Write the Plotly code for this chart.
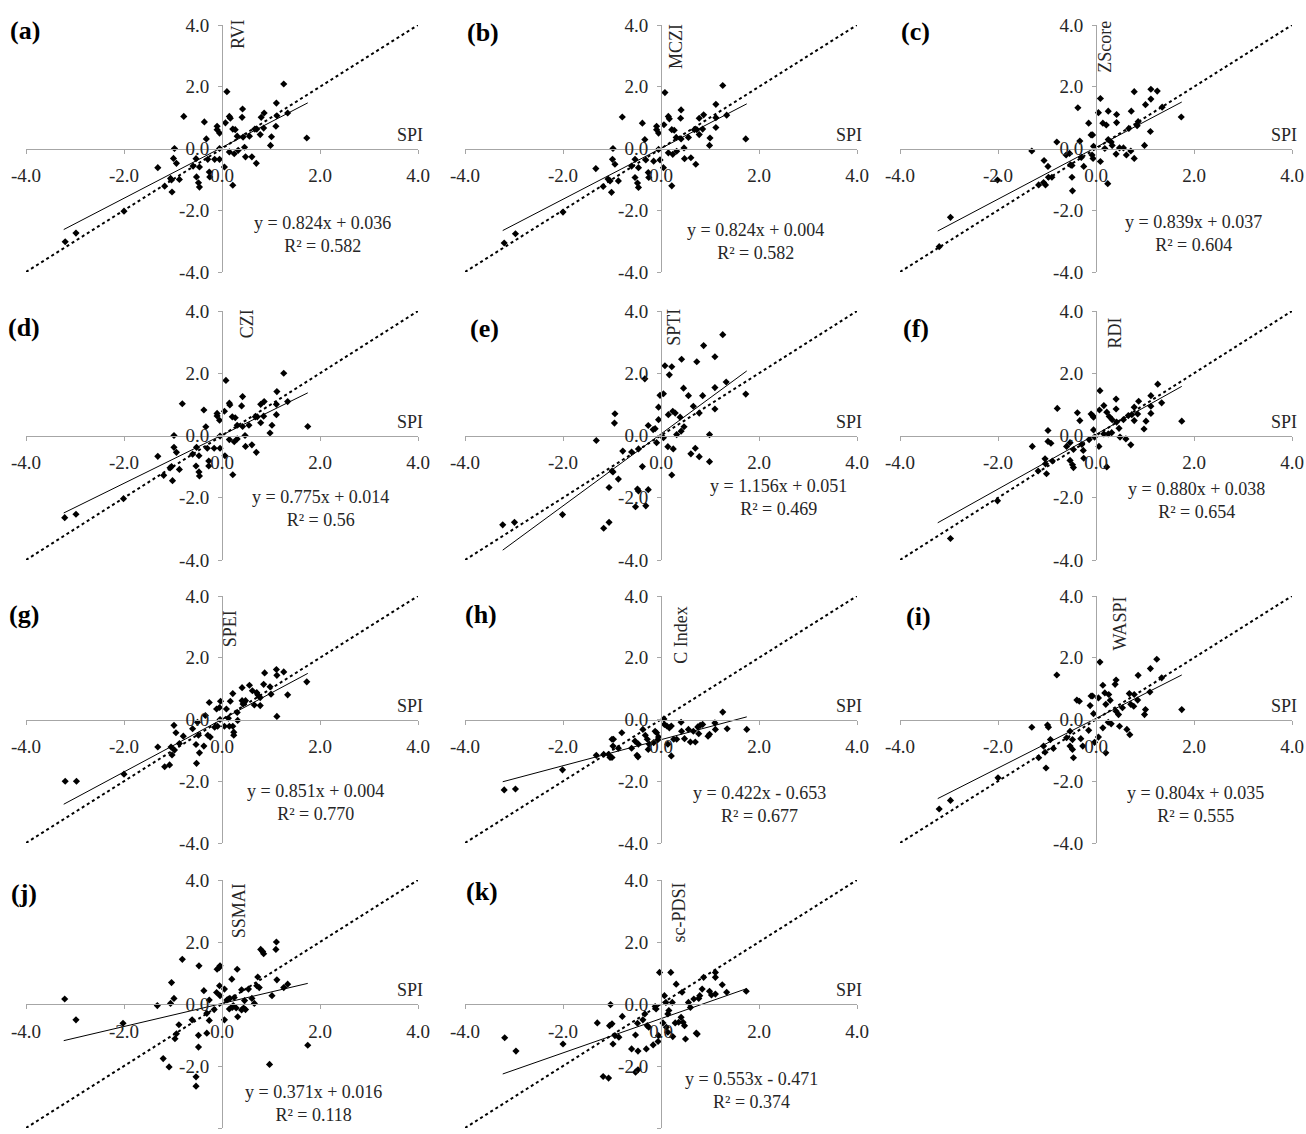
import numpy as np
import plotly.graph_objects as go

# ---------------- data (SPI vs. each index) ----------------
panel_letters = ["a", "b", "c", "d", "e", "f", "g", "h", "i", "j", "k"]
index_names = ["RVI", "MCZI", "ZScore", "CZI", "SPTI", "RDI", "SPEI", "C Index", "WASPI", "SSMAI", "sc-PDSI"]
slopes = [0.824, 0.824, 0.839, 0.775, 1.156, 0.880, 0.851, 0.422, 0.804, 0.371, 0.553]
intercepts = [0.036, 0.004, 0.037, 0.014, 0.051, 0.038, 0.004, -0.653, 0.035, 0.016, -0.471]
r2_labels = ["0.582", "0.582", "0.604", "0.56", "0.469", "0.654", "0.770", "0.677", "0.555", "0.118", "0.374"]
tick_vals = [-4, -2, 0, 2, 4]
tick_text = ["-4.0", "-2.0", "0.0", "2.0", "4.0"]

pts_a = [(-3.2,-3.02),(-2.98,-2.74),(-2.0,-2.03),(-1.31,-0.62),(-1.17,-1.22),(-1.05,-0.97),(-1.03,-1.02),(-1.02,-1.41),(-0.97,0.0),(-0.99,-0.32),(-0.93,-0.48),(-0.87,-1.0),(-0.78,1.04),(-0.59,-0.57),(-0.53,-0.33),(-0.52,-0.92),(-0.48,-1.11),(-0.46,-1.25),(-0.46,-0.6),(-0.36,0.86),(-0.32,0.31),(-0.29,-0.35),(-0.26,-0.76),(-0.25,-0.92),(-0.15,-0.35),(-0.1,0.72),(-0.1,0.61),(-0.05,0.5),(-0.05,0.0),(-0.05,-0.35),(0.05,-0.6),(0.07,0.83),(0.1,1.84),(0.15,1.04),(0.17,0.98),(0.15,-0.11),(0.22,0.63),(0.22,-1.19),(0.25,-0.17),(0.27,0.61),(0.33,-0.06),(0.31,0.4),(0.41,1.01),(0.42,1.28),(0.43,0.37),(0.46,0.04),(0.48,-0.27),(0.56,0.4),(0.61,-0.27),(0.67,0.63),(0.71,0.63),(0.7,-0.48),(0.78,0.45),(0.8,1.01),(0.85,0.66),(0.86,1.15),(0.99,0.1),(1.01,0.38),(1.1,0.72),(1.11,1.47),(1.12,1.06),(1.26,2.09),(1.34,1.15),(1.73,0.34)]
pts_b = [(-3.2,-3.06),(-2.97,-2.76),(-2.0,-2.06),(-1.33,-0.65),(-1.18,-1.23),(-1.08,-0.99),(-1.04,-1.05),(-1.01,-1.42),(-0.98,0.0),(-0.99,-0.35),(-0.94,-0.51),(-0.87,-1.05),(-0.79,1.02),(-0.6,-0.57),(-0.53,-0.35),(-0.53,-0.94),(-0.48,-1.12),(-0.46,-1.26),(-0.46,-0.62),(-0.38,0.82),(-0.33,0.29),(-0.31,-0.37),(-0.26,-0.78),(-0.25,-0.94),(-0.15,-0.41),(-0.09,0.72),(-0.09,0.61),(-0.05,0.5),(-0.05,-0.03),(-0.02,-0.37),(0.05,-0.62),(0.06,0.77),(0.08,1.81),(0.15,1.04),(0.17,0.96),(0.15,-0.14),(0.22,0.61),(0.22,-1.21),(0.24,-0.19),(0.27,0.59),(0.32,-0.09),(0.31,0.36),(0.4,0.98),(0.41,1.25),(0.41,0.31),(0.47,0.02),(0.48,-0.33),(0.56,0.36),(0.61,-0.3),(0.68,0.61),(0.73,0.61),(0.71,-0.51),(0.78,0.45),(0.78,0.98),(0.85,0.63),(0.87,1.09),(0.99,0.1),(1.0,0.34),(1.12,0.68),(1.12,1.43),(1.12,1.0),(1.26,2.04),(1.34,1.08),(1.73,0.31)]
pts_c = [(-3.2,-3.18),(-2.97,-2.23),(-2.01,-1.02),(-1.31,-0.08),(-1.17,-1.18),(-1.07,-1.1),(-1.03,-1.18),(-1.06,-0.39),(-0.98,-0.58),(-0.97,-0.93),(-0.9,-0.93),(-0.8,0.21),(-0.61,-0.21),(-0.54,-0.16),(-0.49,-0.93),(-0.48,-1.37),(-0.52,-0.53),(-0.49,-0.55),(-0.37,1.32),(-0.33,0.24),(-0.3,-0.29),(-0.25,-0.58),(-0.15,0.82),(-0.1,0.44),(-0.07,0.44),(-0.08,-0.21),(-0.06,-0.32),(-0.05,0.07),(0.05,1.16),(0.09,1.62),(0.09,-0.42),(0.14,0.82),(0.18,0.0),(0.21,0.76),(0.25,0.29),(0.25,1.21),(0.24,-1.14),(0.31,0.21),(0.33,0.1),(0.42,0.84),(0.42,1.1),(0.41,-0.18),(0.48,0.02),(0.56,0.02),(0.62,-0.21),(0.67,0.65),(0.71,-0.08),(0.72,1.21),(0.78,-0.32),(0.78,1.84),(0.84,0.74),(0.86,0.87),(0.99,0.1),(1.01,1.42),(1.11,0.55),(1.12,1.6),(1.12,1.92),(1.25,1.86),(1.35,1.34),(1.74,1.02)]
pts_d = [(-3.21,-2.64),(-2.98,-2.53),(-2.01,-2.03),(-1.31,-0.67),(-1.19,-1.28),(-1.06,-1.04),(-1.03,-1.0),(-1.01,-1.45),(-0.98,0.0),(-0.98,-0.38),(-0.93,-0.54),(-0.87,-1.09),(-0.81,1.02),(-0.6,-0.6),(-0.52,-0.38),(-0.53,-0.98),(-0.47,-1.17),(-0.46,-1.3),(-0.47,-0.65),(-0.37,0.82),(-0.33,0.28),(-0.3,-0.41),(-0.27,-0.82),(-0.27,-0.98),(-0.16,-0.41),(-0.1,0.71),(-0.1,0.63),(-0.05,0.49),(-0.04,-0.02),(-0.04,-0.41),(0.06,-0.65),(0.05,0.78),(0.08,1.77),(0.15,1.04),(0.16,0.98),(0.15,-0.13),(0.21,0.6),(0.22,-1.26),(0.25,-0.2),(0.27,0.57),(0.31,-0.11),(0.31,0.33),(0.4,0.95),(0.42,1.25),(0.42,0.29),(0.47,0.0),(0.48,-0.35),(0.55,0.33),(0.61,-0.3),(0.68,0.6),(0.72,0.6),(0.7,-0.54),(0.79,0.41),(0.79,1.0),(0.85,0.62),(0.86,1.09),(0.98,0.08),(1.02,0.33),(1.11,0.67),(1.12,1.41),(1.11,1.0),(1.26,2.0),(1.34,1.09),(1.75,0.29)]
pts_e = [(-3.23,-2.87),(-2.99,-2.79),(-2.01,-2.54),(-1.32,-0.16),(-1.17,-2.98),(-1.06,-2.79),(-1.06,-1.67),(-1.0,-1.14),(-0.98,-1.17),(-0.95,0.4),(-0.94,0.7),(-0.87,-1.4),(-0.78,-0.5),(-0.6,-0.53),(-0.52,-2.29),(-0.48,-1.72),(-0.46,-1.78),(-0.46,-0.43),(-0.38,-1.0),(-0.33,1.82),(-0.31,-2.26),(-0.26,-1.74),(-0.26,0.32),(-0.16,0.19),(-0.12,0.22),(-0.09,-0.23),(-0.05,0.51),(-0.05,0.91),(-0.02,1.29),(0.05,1.34),(0.05,-0.07),(0.08,2.24),(0.14,-0.36),(0.15,0.67),(0.17,1.95),(0.22,2.21),(0.24,0.78),(0.25,-0.43),(0.22,-1.27),(0.29,0.72),(0.32,0.03),(0.39,0.59),(0.41,0.14),(0.42,2.45),(0.46,1.52),(0.47,0.28),(0.56,1.28),(0.61,-0.59),(0.66,0.94),(0.7,-0.41),(0.73,2.37),(0.78,0.72),(0.78,-0.68),(0.85,1.28),(0.87,2.89),(0.99,0.03),(0.99,-0.84),(1.1,2.53),(1.1,1.54),(1.1,0.85),(1.26,3.24),(1.33,1.72),(1.73,1.33)]
pts_f = [(-2.97,-3.31),(-2.01,-2.1),(-1.3,-0.35),(-1.18,-1.14),(-1.04,-0.75),(-1.03,-0.91),(-1.01,-1.23),(-0.98,0.16),(-0.98,-0.19),(-0.92,-0.25),(-0.89,-0.82),(-0.79,0.87),(-0.6,-0.35),(-0.53,-0.23),(-0.53,-0.8),(-0.48,-0.94),(-0.46,-1.03),(-0.46,-0.45),(-0.38,0.73),(-0.33,0.48),(-0.29,-0.29),(-0.26,-0.48),(-0.25,-0.73),(-0.14,-0.13),(-0.1,0.69),(-0.07,0.64),(-0.05,0.59),(-0.05,0.18),(-0.03,-0.05),(0.06,-0.35),(0.07,0.82),(0.08,1.44),(0.16,0.96),(0.16,0.05),(0.22,0.75),(0.22,-1.01),(0.25,0.05),(0.27,0.61),(0.32,0.09),(0.33,0.51),(0.41,1.17),(0.41,0.85),(0.42,0.43),(0.47,0.23),(0.49,-0.05),(0.56,0.51),(0.61,-0.11),(0.66,0.64),(0.73,0.67),(0.71,-0.3),(0.78,0.48),(0.78,0.91),(0.85,0.69),(0.87,1.1),(0.98,0.21),(1.02,0.46),(1.12,0.71),(1.12,1.28),(1.12,0.94),(1.26,1.65),(1.34,1.05),(1.75,0.46)]
pts_g = [(-3.2,-2.0),(-2.97,-2.0),(-2.0,-1.77),(-1.31,-0.89),(-1.17,-1.53),(-1.07,-1.47),(-1.04,-0.89),(-1.02,-1.15),(-0.97,-0.99),(-0.98,-0.19),(-0.94,-0.43),(-0.87,-0.78),(-0.79,-0.54),(-0.6,-0.3),(-0.53,-0.81),(-0.52,-1.42),(-0.5,-0.09),(-0.48,-0.51),(-0.46,-1.08),(-0.37,-0.86),(-0.34,0.13),(-0.29,-0.51),(-0.26,0.55),(-0.24,-0.57),(-0.15,-0.25),(-0.11,0.34),(-0.09,-0.22),(-0.05,0.39),(-0.04,0.0),(-0.03,0.59),(0.05,-0.22),(0.09,0.34),(0.13,0.04),(0.15,-0.22),(0.17,0.59),(0.22,0.84),(0.22,-0.22),(0.24,-0.41),(0.24,-0.51),(0.31,0.23),(0.32,-0.03),(0.41,1.03),(0.41,0.61),(0.45,0.55),(0.48,0.61),(0.43,0.5),(0.56,1.11),(0.62,0.93),(0.66,0.47),(0.71,0.87),(0.73,0.8),(0.78,0.45),(0.78,0.71),(0.87,1.51),(0.85,1.14),(0.98,1.06),(1.0,0.82),(1.11,1.62),(1.12,1.43),(1.12,0.1),(1.26,1.54),(1.34,0.8),(1.73,1.22)]
pts_h = [(-3.2,-2.28),(-2.97,-2.25),(-2.01,-1.63),(-1.32,-1.16),(-1.17,-1.13),(-1.07,-1.13),(-1.04,-1.23),(-1.0,-1.23),(-1.0,-0.64),(-0.97,-0.64),(-0.98,-0.86),(-0.87,-0.93),(-0.8,-0.43),(-0.6,-0.93),(-0.49,-1.16),(-0.47,-1.21),(-0.53,-0.7),(-0.46,-0.8),(-0.37,-0.32),(-0.32,-0.51),(-0.28,-0.64),(-0.26,-0.97),(-0.24,-0.8),(-0.15,-0.75),(-0.12,-0.38),(-0.09,-0.43),(-0.07,-0.66),(-0.05,-0.57),(0.06,0.02),(0.07,-0.16),(0.12,-0.21),(0.14,-0.8),(0.17,-0.27),(0.21,-0.21),(0.21,-1.18),(0.26,-0.64),(0.32,-0.64),(0.41,-0.09),(0.42,-0.38),(0.48,-0.62),(0.56,-0.32),(0.6,-0.73),(0.7,-0.73),(0.66,-0.38),(0.77,-0.46),(0.75,-0.24),(0.8,-0.19),(0.85,-0.16),(0.96,-0.54),(0.99,-0.48),(1.1,-0.11),(1.11,-0.32),(1.26,0.24),(1.35,-0.3),(1.75,-0.32)]
pts_i = [(-3.2,-2.9),(-2.97,-2.62),(-2.0,-1.89),(-1.31,-0.25),(-1.17,-1.24),(-1.07,-0.86),(-1.04,-1.06),(-1.02,-1.57),(-0.99,-0.18),(-0.97,-0.25),(-0.93,-0.65),(-0.87,-0.94),(-0.8,1.44),(-0.6,-0.59),(-0.53,-0.38),(-0.53,-0.86),(-0.48,-0.97),(-0.46,-1.24),(-0.48,-0.65),(-0.39,0.63),(-0.34,0.59),(-0.31,-0.62),(-0.27,-0.86),(-0.15,-0.35),(-0.12,0.45),(-0.1,0.76),(-0.07,0.76),(-0.05,0.19),(-0.03,-0.74),(0.05,-0.57),(0.05,0.7),(0.08,1.86),(0.14,1.11),(0.14,-0.27),(0.18,0.86),(0.2,-1.08),(0.2,0.49),(0.25,-0.09),(0.31,-0.14),(0.26,0.81),(0.29,0.62),(0.39,1.14),(0.41,1.28),(0.41,0.27),(0.46,0.16),(0.48,-0.22),(0.54,0.38),(0.63,-0.32),(0.68,0.84),(0.71,0.49),(0.69,-0.49),(0.77,0.43),(0.78,0.81),(0.85,0.63),(0.86,1.43),(0.99,0.16),(1.01,0.32),(1.1,0.89),(1.11,1.65),(1.24,1.95),(1.34,1.35),(1.75,0.32)]
pts_j = [(-3.21,0.16),(-2.98,-0.51),(-2.02,-0.62),(-1.32,-0.05),(-1.2,-1.76),(-1.08,-2.03),(-1.05,0.02),(-1.03,0.69),(-0.98,0.18),(-0.96,-1.12),(-0.93,-0.96),(-0.88,-0.67),(-0.81,1.44),(-0.61,-0.51),(-0.53,-2.35),(-0.53,-2.65),(-0.48,-1.01),(-0.48,-1.39),(-0.47,1.23),(-0.37,0.43),(-0.31,-0.3),(-0.31,-0.94),(-0.26,0.13),(-0.26,-0.53),(-0.16,-0.18),(-0.11,0.37),(-0.1,1.12),(-0.06,1.17),(-0.04,1.23),(-0.05,0.59),(-0.04,0.27),(0.05,-0.51),(0.05,0.48),(0.1,0.13),(0.13,0.16),(0.16,0.18),(0.15,-0.16),(0.2,0.8),(0.21,-0.11),(0.23,-0.05),(0.25,0.21),(0.29,-0.13),(0.31,1.12),(0.32,-0.41),(0.4,0.46),(0.4,-0.19),(0.44,-0.13),(0.48,-0.18),(0.46,0.11),(0.54,0.48),(0.61,0.18),(0.66,0.02),(0.71,0.59),(0.76,0.53),(0.73,0.87),(0.79,1.76),(0.83,1.69),(0.85,1.62),(0.97,-1.95),(1.02,0.27),(1.1,1.76),(1.11,2.0),(1.12,0.78),(1.26,0.53),(1.34,0.64),(1.75,-1.33)]
pts_k = [(-3.19,-1.09),(-2.96,-1.52),(-2.0,-1.29),(-1.3,-0.61),(-1.18,-2.34),(-1.07,-2.39),(-1.05,-0.7),(-1.0,-0.64),(-1.03,-0.02),(-0.98,-1.29),(-0.94,-1.02),(-0.86,-1.07),(-0.79,-0.4),(-0.6,-1.45),(-0.52,-1.0),(-0.52,-2.2),(-0.47,-2.12),(-0.48,-0.62),(-0.47,-1.52),(-0.37,-0.51),(-0.33,-0.32),(-0.3,-1.45),(-0.28,-0.7),(-0.25,-0.75),(-0.16,-1.32),(-0.12,-0.08),(-0.1,-0.16),(-0.06,-1.21),(-0.05,-1.02),(-0.03,1.02),(0.04,-0.61),(0.07,0.27),(0.1,0.05),(0.11,-0.75),(0.14,-0.91),(0.14,-0.32),(0.16,-0.21),(0.2,1.02),(0.23,0.05),(0.24,-1.05),(0.29,-0.61),(0.31,0.64),(0.36,-0.59),(0.41,-0.43),(0.45,-0.59),(0.43,0.38),(0.48,-0.7),(0.5,-1.13),(0.56,0.05),(0.6,-0.11),(0.67,0.16),(0.72,-0.94),(0.74,-0.97),(0.77,0.18),(0.79,0.27),(0.84,0.48),(0.87,0.86),(0.99,0.41),(1.03,0.29),(1.11,1.02),(1.11,0.86),(1.11,0.32),(1.25,0.62),(1.34,0.38),(1.74,0.41)]

panels = [pts_a, pts_b, pts_c, pts_d, pts_e, pts_f, pts_g, pts_h, pts_i, pts_j, pts_k]

# ---------------- layout / style ----------------
W, H = 1306, 1134
col_px = [(26, 418), (465, 857), (900, 1292)]
row_px = [(25, 272), (311, 560), (596, 843), (880, 1128)]
ylab_pos = [(0.34, 4.25), (0.32, 4.1), (0.18, 4.2), (0.5, 4.12), (0.27, 4.13), (0.39, 3.84),
            (0.17, 3.6), (0.41, 3.75), (0.49, 4.05), (0.35, 3.95), (0.36, 3.97)]
eq_pos = [(2.06, -2.77), (1.92, -3.0), (1.98, -2.75), (2.0, -2.35), (2.4, -2.0), (2.05, -2.1),
          (1.9, -2.68), (2.02, -2.74), (2.04, -2.74), (1.86, -3.2), (1.84, -2.8)]
letter_px = [(25, 30), (483, 32), (916, 31), (24, 327), (484, 329), (916, 329),
             (24, 614), (481, 614), (918, 616), (24, 893), (482, 891)]

FONT = "Liberation Serif, Times New Roman, serif"
AXIS_COLOR = "#a6a6a6"
TEXT_COLOR = "#262626"

all_x = [p[0] for pts in panels for p in pts]
x_lo, x_hi = min(all_x), max(all_x)

fig = go.Figure()
annotations = []
layout_axes = {}

for i, pts in enumerate(panels):
    r, c = divmod(i, 3)
    x0, x1 = col_px[c]
    y0, y1 = row_px[r]
    xdom = [x0 / W, x1 / W]
    ydom = [1 - y1 / H, 1 - y0 / H]
    n = "" if i == 0 else str(i + 1)
    xa, ya = "x" + n, "y" + n

    def px_(v, d=xdom):
        return d[0] + (v + 4) / 8 * (d[1] - d[0])

    def py_(v, d=ydom):
        return d[0] + (v + 4) / 8 * (d[1] - d[0])

    xs = np.array([p[0] for p in pts])
    ys = np.array([p[1] for p in pts])

    # 1:1 line
    fig.add_trace(go.Scatter(x=[-4, 4], y=[-4, 4], mode="lines",
                             line=dict(color="black", width=2, dash="dot"),
                             xaxis=xa, yaxis=ya, showlegend=False, hoverinfo="skip"))
    # regression line
    lx = np.array([x_lo, x_hi])
    fig.add_trace(go.Scatter(x=lx, y=slopes[i] * lx + intercepts[i], mode="lines",
                             line=dict(color="black", width=1),
                             xaxis=xa, yaxis=ya, showlegend=False, hoverinfo="skip"))
    # points
    fig.add_trace(go.Scatter(x=xs, y=ys, mode="markers",
                             marker=dict(symbol="diamond", size=5.5, color="black"),
                             xaxis=xa, yaxis=ya, showlegend=False))

    common = dict(range=[-4, 4], showline=True, linecolor=AXIS_COLOR, linewidth=1,
                  ticks="outside", ticklen=4, tickcolor=AXIS_COLOR, tickwidth=1,
                  tickvals=tick_vals, ticktext=tick_text,
                  tickfont=dict(family=FONT, size=19, color=TEXT_COLOR),
                  showgrid=False, zeroline=False, anchor="free", fixedrange=True,
                  automargin=False)
    layout_axes["xaxis" + n] = dict(common, domain=xdom, position=(ydom[0] + ydom[1]) / 2,
                                    ticklabelstandoff=6)
    layout_axes["yaxis" + n] = dict(common, domain=ydom, position=(xdom[0] + xdom[1]) / 2,
                                    ticklabelstandoff=5)

    # axis titles
    annotations.append(dict(text="SPI", x=px_(4.15), y=py_(0.05), xref="paper", yref="paper",
                            xanchor="right", yanchor="bottom", showarrow=False,
                            font=dict(family=FONT, size=18, color=TEXT_COLOR)))
    annotations.append(dict(text=index_names[i], x=px_(ylab_pos[i][0]), y=py_(ylab_pos[i][1]),
                            xref="paper", yref="paper", textangle=-90,
                            xanchor="center", yanchor="top",
                            showarrow=False, font=dict(family=FONT, size=18, color=TEXT_COLOR)))
    # equation
    b = intercepts[i]
    sign = "+" if b >= 0 else "-"
    eq = f"y = {slopes[i]:.3f}x {sign} {abs(b):.3f}<br>R² = {r2_labels[i]}"
    annotations.append(dict(text=eq, x=px_(eq_pos[i][0]), y=py_(eq_pos[i][1]),
                            xref="paper", yref="paper",
                            xanchor="center", yanchor="middle", align="center", showarrow=False,
                            font=dict(family=FONT, size=18, color=TEXT_COLOR)))
    # panel letter
    lpx, lpy = letter_px[i]
    annotations.append(dict(text=f"<b>({panel_letters[i]})</b>", x=lpx / W, y=1 - lpy / H,
                            xref="paper", yref="paper", xanchor="center", yanchor="middle",
                            showarrow=False, font=dict(family=FONT, size=26, color="black")))

fig.update_layout(width=W, height=H, autosize=False,
                  margin=dict(l=0, r=0, t=0, b=0, pad=0, autoexpand=False),
                  paper_bgcolor="white", plot_bgcolor="white",
                  annotations=annotations, **layout_axes)

fig.write_html("out.html", config={"displayModeBar": False, "responsive": False},
               post_script="document.body.style.margin='0px';")
